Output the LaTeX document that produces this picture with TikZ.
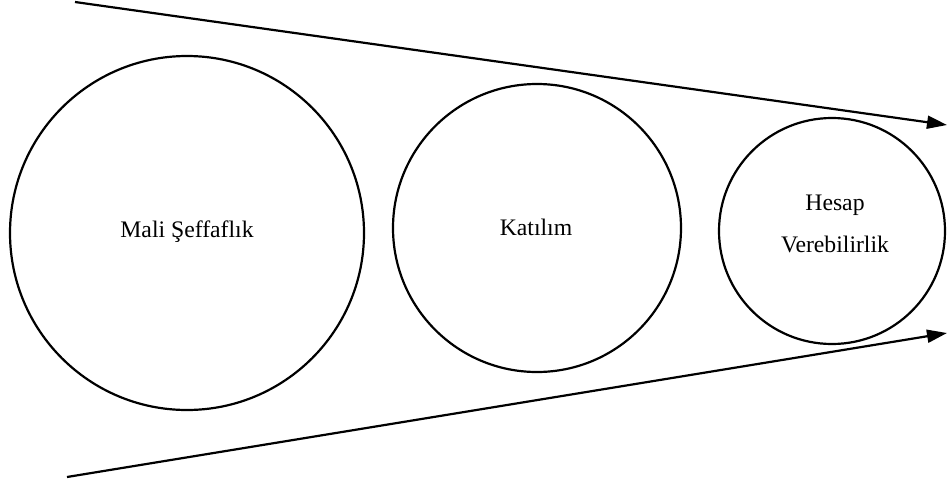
\documentclass[tikz,border=0pt]{standalone}
\usepackage{fontspec}
\setmainfont{Liberation Serif}
\usetikzlibrary{arrows.meta}
\begin{document}
\begin{tikzpicture}[x=1pt,y=-1pt,
  ring/.style={circle,draw=black,line width=2.2pt,inner sep=0pt},
  lbl/.style={anchor=base,inner sep=0pt,font=\fontsize{23.7}{28}\selectfont},
  arr/.style={line width=2.2pt,-{Triangle[length=20pt,width=13pt]}}]
\useasboundingbox (0,0) rectangle (948,485);
\node[ring,minimum size=354pt] (c1) at (187,233) {};
\node[ring,minimum size=288pt] (c2) at (537,228) {};
\node[ring,minimum size=226pt] (c3) at (832,231) {};
\node[lbl] (t1) at (187,237) {Mali Şeffaflık};
\node[lbl] (t2) at (536,235) {Katılım};
\node[lbl] (t3a) at (835,210) {Hesap};
\node[lbl] (t3b) at (835,252) {Verebilirlik};
\coordinate (a1) at (75,2);
\coordinate (a2) at (947,125);
\coordinate (b1) at (67,477);
\coordinate (b2) at (947,333);
\draw[arr] (a1) -- (a2);
\draw[arr] (b1) -- (b2);
\end{tikzpicture}
\end{document}
